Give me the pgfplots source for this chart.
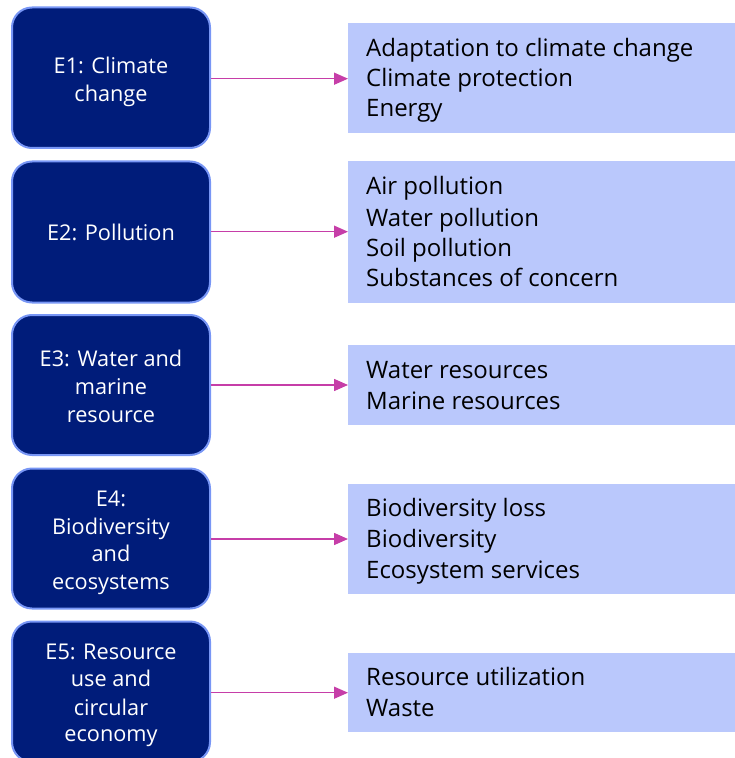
\documentclass[border=0pt]{standalone}
\usepackage{fontspec}
\setmainfont{Open Sans}
\usepackage{pgfplots}
\pgfplotsset{compat=1.18}
\usetikzlibrary{arrows.meta}
\definecolor{navy}{RGB}{0,28,122}
\definecolor{navyborder}{RGB}{120,150,245}
\definecolor{lightbox}{RGB}{186,200,252}
\definecolor{arrowcol}{RGB}{198,62,168}
\begin{document}
\begin{tikzpicture}
\begin{axis}[
  width=735bp, height=758bp, scale only axis,
  xmin=0, xmax=735, ymin=0, ymax=758, y dir=reverse,
  hide axis, clip=true, clip bounding box=upper bound,
]
\addplot[draw=none] coordinates {(0,0) (735,758)};
% left boxes
\addplot[fill=navy, draw=navyborder, line width=2bp, rounded corners=20bp] coordinates {(111,7.5) (210,7.5) (210,148) (12,148) (12,7.5)} -- cycle;
\addplot[fill=navy, draw=navyborder, line width=2bp, rounded corners=20bp] coordinates {(111,161.5) (210,161.5) (210,302.5) (12,302.5) (12,161.5)} -- cycle;
\addplot[fill=navy, draw=navyborder, line width=2bp, rounded corners=20bp] coordinates {(111,315) (210,315) (210,455) (12,455) (12,315)} -- cycle;
\addplot[fill=navy, draw=navyborder, line width=2bp, rounded corners=20bp] coordinates {(111,468.5) (210,468.5) (210,608.5) (12,608.5) (12,468.5)} -- cycle;
\addplot[fill=navy, draw=navyborder, line width=2bp, rounded corners=20bp] coordinates {(111,621.5) (210,621.5) (210,762) (12,762) (12,621.5)} -- cycle;
% right boxes
\addplot[fill=lightbox, draw=none] coordinates {(348,23) (740,23) (740,133) (348,133)} -- cycle;
\addplot[fill=lightbox, draw=none] coordinates {(348,161) (740,161) (740,302.5) (348,302.5)} -- cycle;
\addplot[fill=lightbox, draw=none] coordinates {(348,345) (740,345) (740,424.5) (348,424.5)} -- cycle;
\addplot[fill=lightbox, draw=none] coordinates {(348,483.5) (740,483.5) (740,593.5) (348,593.5)} -- cycle;
\addplot[fill=lightbox, draw=none] coordinates {(348,652.5) (740,652.5) (740,731.5) (348,731.5)} -- cycle;
% arrows
\addplot[arrowcol, line width=1.5bp, -{Triangle[length=14bp,width=12bp]}] coordinates {(211,78.7) (348,78.7)};
\addplot[arrowcol, line width=1.5bp, -{Triangle[length=14bp,width=12bp]}] coordinates {(211,231.7) (348,231.7)};
\addplot[arrowcol, line width=1.5bp, -{Triangle[length=14bp,width=12bp]}] coordinates {(211,385) (348,385)};
\addplot[arrowcol, line width=1.5bp, -{Triangle[length=14bp,width=12bp]}] coordinates {(211,539) (348,539)};
\addplot[arrowcol, line width=1.5bp, -{Triangle[length=14bp,width=12bp]}] coordinates {(211,692.7) (348,692.7)};
% left labels
\addplot[draw=none, point meta=explicit symbolic, nodes near coords,
  every node near coord/.append style={anchor=base, inner sep=0pt, text=white, font=\fontsize{21.7bp}{28bp}\selectfont}]
coordinates {
(111,74) [E1: Climate]
(111,102) [change]
(111,240.7) [E2: Pollution]
(111,366) [E3: Water and]
(111,394.3) [marine]
(111,422.3) [resource]
(111,506.7) [E4:]
(111,534) [Biodiversity]
(111,561.7) [and]
(111,589.3) [ecosystems]
(111,659.3) [E5: Resource]
(111,686.7) [use and]
(111,715) [circular]
(111,741.7) [economy]
};
% right labels
\addplot[draw=none, point meta=explicit symbolic, nodes near coords,
  every node near coord/.append style={anchor=base west, inner sep=0pt, text=black, font=\fontsize{24bp}{30bp}\selectfont}]
coordinates {
(366,56.5) [Adaptation to climate change]
(366,86.7) [Climate protection]
(366,116.7) [Energy]
(366,195) [Air pollution]
(366,226) [Water pollution]
(366,256) [Soil pollution]
(366,286.7) [Substances of concern]
(366,378.3) [Water resources]
(366,409) [Marine resources]
(366,516.7) [Biodiversity loss]
(366,547.7) [Biodiversity]
(366,578.3) [Ecosystem services]
(366,685.7) [Resource utilization]
(366,716) [Waste]
};
\end{axis}
\end{tikzpicture}
\end{document}
